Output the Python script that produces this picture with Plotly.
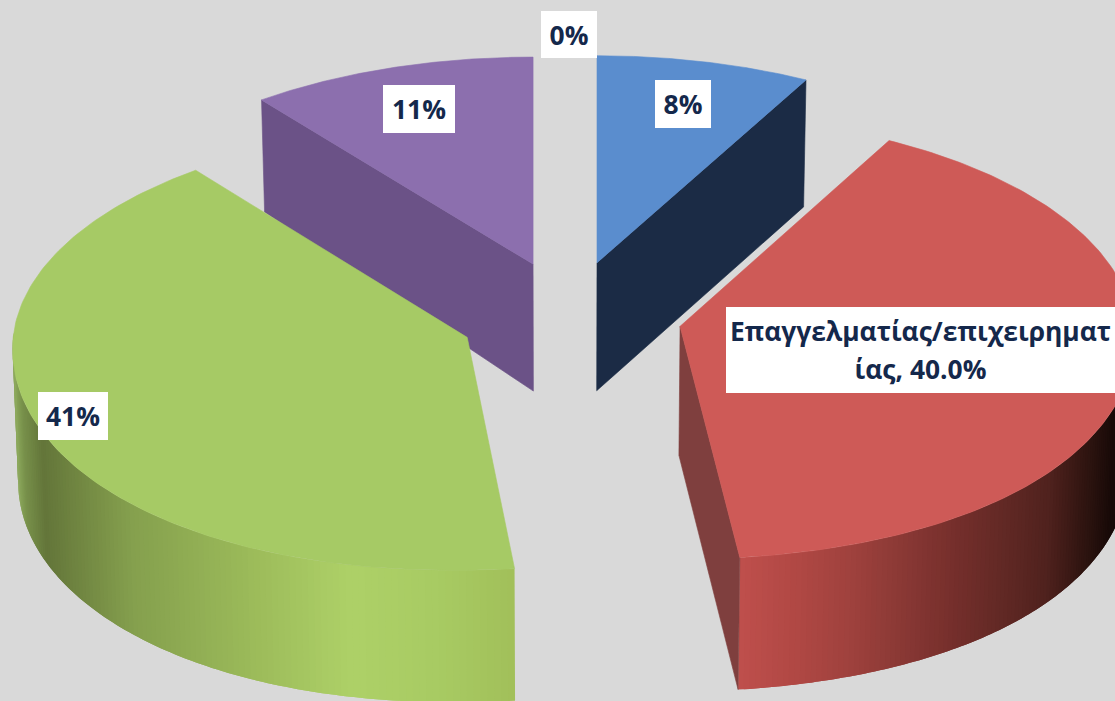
import numpy as np
import plotly.graph_objects as go

# ---- chart data -------------------------------------------------
values = [8.0, 40.0, 41.3, 10.7]
zero_value = 0.0
top_colors = ["#5a8dce", "#ce5a57", "#a6ca65", "#8c6fae"]
side_colors = ["#1b2b45", "#7f3f3e", "#a6ca65", "#6b5287"]
label_texts = ["8%", "Επαγγελματίας/επιχειρηματ<br>ίας, 40.0%", "41%", "11%", "0%"]
label_boxes = [(655, 711, 80, 128), (726, 1115, 307, 393), (38, 108, 392, 440),
               (383, 455, 85, 133), (541, 597, 11, 58)]

# ---- look of the 3-D pie ----------------------------------------
CX, CY = 565, 316
EXP_X, EXP_Y = 110, 55
pull_x = [1.17, 1.065, 0.965, 0.88]
skew = [0, 0, -13, 0]
back_scale = [1, 1.016, 1.018, 1]
depth_inner = [128, 129, 132, 127]
depth_outer = [127, 132, 132, 112]
red_x = [738, 800, 850, 900, 950, 1000, 1050, 1090, 1115]
red_c = [(192, 80, 77), (176, 72, 68), (160, 66, 62), (140, 58, 54), (120, 48, 45),
         (100, 42, 38), (80, 34, 30), (45, 20, 16), (24, 10, 8)]
grn_x = [14, 22, 42, 130, 250, 350, 440, 514]
grn_c = [(140, 168, 92), (120, 145, 75), (100, 118, 58), (133, 160, 78), (156, 187, 90),
         (174, 209, 104), (168, 203, 99), (162, 192, 90)]


def pts(t, i, ax, ay):
    c, s = np.cos(t), np.sin(t)
    a = 454 - 23 * c
    b = 220 - 13 * c
    x = ax + a * s + skew[i] * np.clip(-c, 0, 1) ** 6
    y = ay - b * c * np.where(c > 0, back_scale[i], 1) + 15 * np.clip(-c, 0, 1) * s ** 2
    return x, y


def lower(x):
    return CX + (x - CX) * 0.99


fig = go.Figure()


def poly(xs, ys, color, width=0.6):
    fig.add_trace(go.Scatter(x=list(xs), y=list(ys), mode="lines" if width else "none", fill="toself",
                             fillcolor=color, line=dict(color=color, width=width),
                             hoverinfo="skip", showlegend=False))


cum = np.cumsum([0] + values) / 100 * 2 * np.pi
apex = []
for i in range(4):
    mid = (cum[i] + cum[i + 1]) / 2
    apex.append((CX + EXP_X * pull_x[i] * np.sin(mid), CY - EXP_Y * np.cos(mid)))


def top(i):
    t = np.linspace(cum[i], cum[i + 1], 160)
    x, y = pts(t, i, *apex[i])
    poly(np.r_[apex[i][0], x, apex[i][0]], np.r_[apex[i][1], y, apex[i][1]], top_colors[i])


def radial(i, t):
    ax, ay = apex[i]
    x, y = pts(np.array([t]), i, ax, ay)
    x, y = x[0], y[0]
    poly([ax, x, lower(x), lower(ax), ax],
         [ay, y, y + depth_outer[i], ay + depth_inner[i], ay], side_colors[i])


def wall(i, t0, t1, xp, cp, n=120):
    ts = np.linspace(t0, t1, n)
    x, y = pts(ts, i, *apex[i])
    d = depth_outer[i]
    for k in range(len(ts) - 1):
        m = min(k + 2, len(ts) - 1)  # overlap the next strip, so that no seams show
        seg_x = x[k:m + 1]
        seg_y = y[k:m + 1]
        xm = (x[k] + x[k + 1]) / 2
        col = "rgb(%d,%d,%d)" % tuple(int(np.interp(xm, xp, [c[j] for c in cp])) for j in range(3))
        poly(np.r_[seg_x, lower(seg_x[::-1]), seg_x[0]], np.r_[seg_y, seg_y[::-1] + d, seg_y[0]], col, 0)


# back slices
radial(3, cum[3])
top(3)
radial(0, cum[1])
top(0)
# red: painted from the dark end towards the front edge
wall(1, cum[2], np.pi / 2, red_x, red_c)
radial(1, cum[2])
top(1)
# green
wall(2, cum[2], 1.5 * np.pi + 0.02, grn_x, grn_c)
top(2)

for text, (x0, x1, y0, y1) in zip(label_texts, label_boxes):
    inner = "<br>".join('<span style="font-size:26.4px"><b>%s</b></span>' % s for s in text.split("<br>"))
    fig.add_annotation(x=(x0 + x1) / 2, y=(y0 + y1) / 2, text=inner, showarrow=False,
                       width=x1 - x0, height=y1 - y0, bgcolor="#ffffff", borderpad=0, borderwidth=0,
                       align="center", valign="middle",
                       font=dict(family="Open Sans, Noto Sans, sans-serif", size=28.5, color="#14284b"))

fig.update_layout(width=1115, height=701, margin=dict(l=0, r=0, t=0, b=0),
                  paper_bgcolor="#d9d9d9", plot_bgcolor="#d9d9d9", showlegend=False,
                  xaxis=dict(range=[0, 1115], visible=False, fixedrange=True),
                  yaxis=dict(range=[701, 0], visible=False, fixedrange=True))
fig.write_html("out.html", config={"displayModeBar": False},
               post_script="document.body.style.margin='0';document.body.style.overflow='hidden';document.body.style.background='#d9d9d9';")
